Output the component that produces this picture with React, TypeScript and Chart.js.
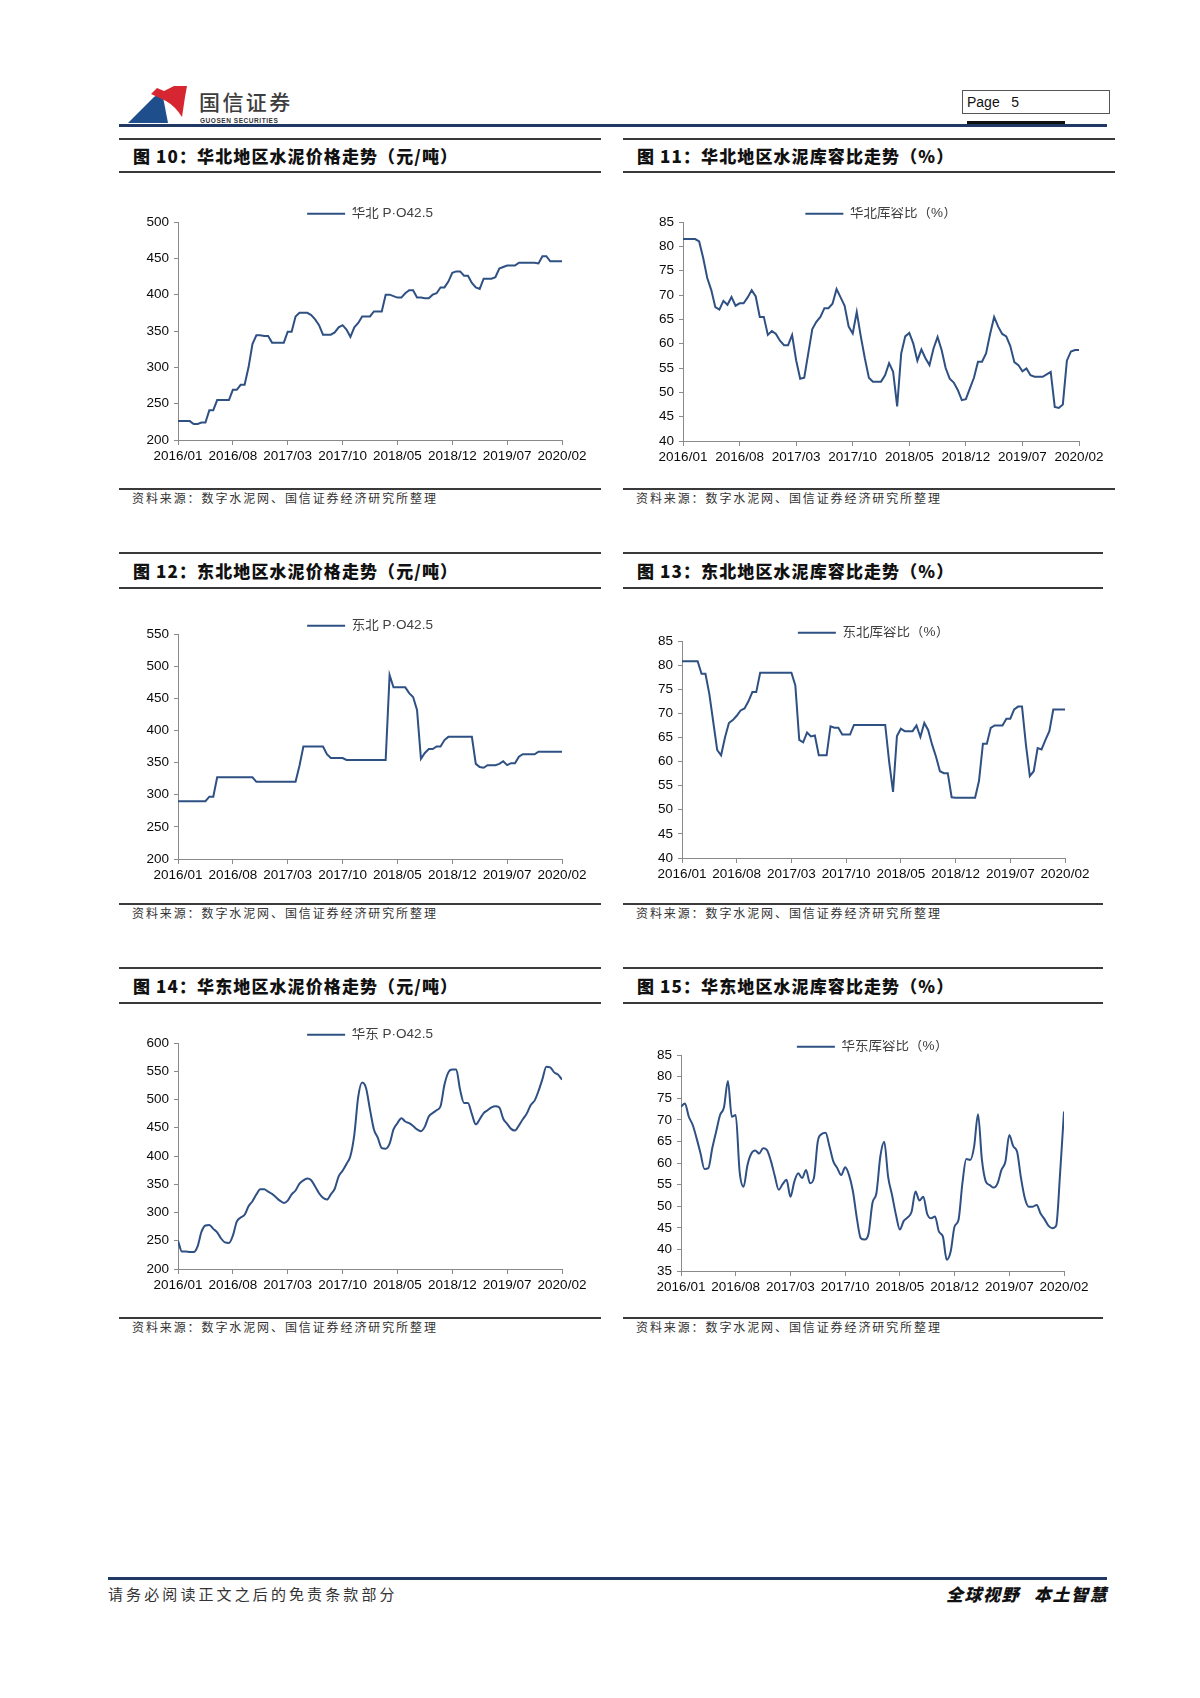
import React, { useEffect, useRef } from "react";
import { Chart, registerables } from "chart.js";

Chart.register(...registerables);

// ---------------- DATA ----------------
// x axis: months since 2016/01, two readings per month (0, 0.5, 1, ... 49)
const X_TICK_LABELS = ["2016/01", "2016/08", "2017/03", "2017/10", "2018/05", "2018/12", "2019/07", "2020/02"];
const MONTHS_PER_TICK = 7;
const READINGS_PER_MONTH = 2;

// 图10 华北 P·O42.5 (元/吨)
const HUABEI_PRICE = [
  226, 226, 226, 226, 222, 222, 224, 224, 241, 241,
  255, 255, 255, 255, 269, 269, 276, 276, 300, 332,
  344, 344, 343, 343, 334, 334, 334, 334, 349, 349,
  370, 375, 375, 375, 372, 366, 358, 345, 345, 345,
  348, 355, 358, 352, 342, 355, 361, 370, 370, 370,
  377, 377, 377, 400, 400, 398, 396, 396, 402, 406,
  406, 396, 396, 395, 395, 400, 402, 410, 410, 418,
  430, 432, 432, 426, 426, 416, 410, 408, 422, 422,
  422, 424, 436, 438, 440, 440, 440, 444, 444, 444,
  444, 444, 443, 453, 453, 446, 446, 446, 446,
];

// 图11 华北库容比 (%)
const HUABEI_RATIO = [
  81.5, 81.5, 81.5, 81.5, 81, 77.6, 73.5, 71, 67.5, 67,
  68.8, 68, 69.6, 67.8, 68.3, 68.3, 69.5, 71, 69.7, 65.5,
  65.5, 61.8, 62.6, 62, 60.6, 59.7, 59.7, 61.8, 56.6, 52.8,
  53, 58, 63, 64.5, 65.5, 67.3, 67.3, 68.2, 71.2, 69.5,
  67.8, 63.5, 62.1, 66.5, 61.5, 57, 53, 52.2, 52.2, 52.2,
  53.5, 56, 54.2, 47.1, 58, 61.5, 62.2, 60, 56.5, 58.8,
  57, 55.6, 59, 61.4, 58.7, 55, 52.8, 52, 50.5, 48.4,
  48.6, 50.8, 53, 56.3, 56.3, 58, 62, 65.5, 63.5, 62,
  61.5, 59.5, 56.2, 55.6, 54.3, 54.9, 53.5, 53.2, 53.2, 53.2,
  53.7, 54.2, 47, 46.8, 47.5, 56.5, 58.4, 58.7, 58.7,
];

// 图12 东北 P·O42.5 (元/吨)
const DONGBEI_PRICE = [
  290, 290, 290, 290, 290, 290, 290, 290, 297, 297,
  327, 327, 327, 327, 327, 327, 327, 327, 327, 327,
  320, 320, 320, 320, 320, 320, 320, 320, 320, 320,
  320, 345, 375, 375, 375, 375, 375, 375, 363, 357,
  357, 357, 357, 354, 354, 354, 354, 354, 354, 354,
  354, 354, 354, 354, 486, 467, 467, 467, 467, 458,
  452, 432, 356, 365, 371, 371, 375, 375, 385, 390,
  390, 390, 390, 390, 390, 390, 348, 343, 342, 346,
  346, 346, 348, 352, 346, 349, 349, 359, 363, 363,
  363, 363, 367, 367, 367, 367, 367, 367, 367,
];

// 图13 东北库容比 (%)
const DONGBEI_RATIO = [
  80.8, 80.8, 80.8, 80.8, 80.8, 78.2, 78.2, 74, 68.2, 62.4,
  61.3, 65, 68, 68.6, 69.5, 70.6, 71, 72.5, 74.4, 74.4,
  78.4, 78.4, 78.4, 78.4, 78.4, 78.4, 78.4, 78.4, 78.4, 75.8,
  64.5, 64, 66, 65.2, 65.4, 61.3, 61.3, 61.3, 67.3, 67,
  67, 65.6, 65.6, 65.6, 67.6, 67.6, 67.6, 67.6, 67.6, 67.6,
  67.6, 67.6, 67.6, 60, 53.7, 65.3, 66.8, 66.3, 66.3, 66.3,
  67.5, 65.1, 68, 66.5, 63.5, 61, 58, 57.6, 57.6, 52.6,
  52.5, 52.5, 52.5, 52.5, 52.5, 52.5, 56, 63.7, 63.7, 67,
  67.5, 67.5, 67.5, 68.9, 68.9, 70.8, 71.4, 71.4, 63.5, 57,
  58, 62.8, 62.5, 64.5, 66.3, 70.8, 70.8, 70.8, 70.8,
];

// 图14 华东 P·O42.5 (元/吨)
const HUADONG_PRICE = [
  250, 231, 231, 230, 230, 240, 266, 277, 278, 271,
  265, 254, 247, 246, 259, 284, 291, 296, 311, 320,
  332, 341, 341, 337, 333, 327, 321, 317, 321, 332,
  339, 351, 357, 360, 357, 346, 334, 326, 323, 332,
  342, 364, 374, 386, 400, 438, 505, 530, 520, 482,
  447, 432, 414, 413, 422, 447, 458, 467, 461, 458,
  453, 447, 444, 452, 470, 476, 481, 488, 526, 548,
  553, 553, 517, 494, 494, 474, 456, 465, 476, 481,
  486, 488, 486, 466, 457, 448, 445, 454, 465, 475,
  490, 498, 515, 536, 558, 557, 548, 544, 535,
];

// 图15 华东库容比 (%)
const HUADONG_RATIO = [
  73, 73.8, 70.7, 68.8, 65.7, 62.2, 58.6, 58.8, 63.4, 67.3,
  71.1, 72.9, 79, 70.7, 71.1, 58, 54.5, 59.5, 62.2, 62.9,
  62.2, 63.4, 63, 60.5, 57, 53.8, 55.1, 56.1, 52.2, 55.7,
  57.6, 56.5, 58.4, 55.3, 56.5, 65, 66.7, 67, 63.8, 60.3,
  58.8, 57.2, 59, 57.2, 53.4, 47.2, 42.6, 42.3, 43.7, 50.8,
  53, 61.5, 64.9, 56.8, 52.6, 48, 44.6, 46.6, 47.4, 48.7,
  53.4, 51.3, 52.2, 48.2, 47.2, 47.6, 44.1, 43, 37.6, 39.5,
  45.3, 46.8, 55.3, 60.9, 60.7, 63.8, 71.3, 60.7, 55.7, 54.9,
  54.3, 55.3, 58.4, 60.3, 66.5, 63.9, 62.6, 56.5, 51.8, 49.9,
  49.9, 50.3, 48.3, 47, 45.5, 44.9, 45.5, 57.6, 71.9,
];

// ---------------- STYLE ----------------
const SANS = '"Liberation Sans", Arial, "Noto Sans CJK SC", sans-serif';
const CJK = '"Noto Sans CJK SC", "Liberation Sans", sans-serif';
const LINE_COLOR = "#2f5083";
const AXIS_COLOR = "#8a8a8a";
const NAVY = "#1f3864";
const LEGEND_BOX_HEIGHT = 15;

Chart.defaults.font.family = SANS;

const legendHeightPlugin = {
  id: "legendHeightFix",
  beforeInit(chart: any) {
    const legend = chart.legend;
    if (!legend) return;
    const orig = legend.fit;
    legend.fit = function () {
      orig.call(this);
      this.height = LEGEND_BOX_HEIGHT;
    };
  },
};

type ChartSpec = {
  values: number[];
  label: string;
  yMin: number;
  yMax: number;
  yStep: number;
  smooth?: boolean;
  canvasTop: number;
  canvasH: number;
  yAxisW: number;
  padTop: number;
  padRight: number;
  xAxisH: number;
};

type PanelSpec = {
  title: string;
  x: number;
  w: number;
  titleTop: number;
  titleBottom: number;
  sourceY: number;
  chart: ChartSpec;
};

function LineChart({ left, width, spec }: { left: number; width: number; spec: ChartSpec }) {
  const ref = useRef<HTMLCanvasElement | null>(null);
  useEffect(() => {
    if (!ref.current) return;
    const points = spec.values.map((v, i) => ({ x: i / READINGS_PER_MONTH, y: v }));
    const lastMonth = (X_TICK_LABELS.length - 1) * MONTHS_PER_TICK;
    const chart = new Chart(ref.current, {
      type: "line",
      data: {
        datasets: [
          {
            label: spec.label,
            data: points,
            borderColor: LINE_COLOR,
            backgroundColor: LINE_COLOR,
            borderWidth: 2,
            pointRadius: 0,
            fill: false,
            tension: spec.smooth ? 0.4 : 0,
            cubicInterpolationMode: spec.smooth ? "monotone" : "default",
          } as any,
        ],
      },
      options: {
        animation: false,
        responsive: false,
        maintainAspectRatio: false,
        layout: { padding: { top: spec.padTop, right: spec.padRight, left: 0, bottom: 0 } },
        plugins: {
          legend: {
            position: "top",
            fullSize: false,
            labels: {
              usePointStyle: true,
              pointStyle: "line",
              pointStyleWidth: 38,
              padding: 0,
              color: "#404040",
              font: { size: 13.5, family: SANS },
            },
          } as any,
          tooltip: { enabled: false },
        },
        scales: {
          x: {
            type: "linear",
            min: 0,
            max: lastMonth,
            ticks: {
              stepSize: MONTHS_PER_TICK,
              autoSkip: false,
              maxRotation: 0,
              minRotation: 0,
              padding: 3,
              color: "#0a0a0a",
              font: { size: 13.5, family: SANS },
              callback: (v: any) => X_TICK_LABELS[Math.round(Number(v) / MONTHS_PER_TICK)] ?? "",
            },
            grid: { display: true, drawOnChartArea: false, drawTicks: true, tickLength: 5, color: AXIS_COLOR },
            border: { display: true, color: AXIS_COLOR, width: 1 },
            afterFit: (s: any) => {
              s.height = spec.xAxisH;
            },
          } as any,
          y: {
            min: spec.yMin,
            max: spec.yMax,
            ticks: {
              stepSize: spec.yStep,
              padding: 5,
              color: "#0a0a0a",
              font: { size: 13.5, family: SANS },
            },
            grid: { display: true, drawOnChartArea: false, drawTicks: true, tickLength: 4, color: AXIS_COLOR },
            border: { display: true, color: AXIS_COLOR, width: 1 },
            afterFit: (s: any) => {
              s.width = spec.yAxisW;
            },
          } as any,
        },
      },
      plugins: [legendHeightPlugin as any],
    });
    return () => chart.destroy();
  }, [spec, left, width]);
  return (
    <canvas
      ref={ref}
      width={width}
      height={spec.canvasH}
      style={{ position: "absolute", left, top: spec.canvasTop, width, height: spec.canvasH }}
    />
  );
}

const PANELS: PanelSpec[] = [
  {
    title: "图 10：华北地区水泥价格走势（元/吨）",
    x: 119, w: 482, titleTop: 139, titleBottom: 172, sourceY: 489,
    chart: { values: HUABEI_PRICE, label: "华北 P·O42.5", yMin: 200, yMax: 500, yStep: 50,
      canvasTop: 176, canvasH: 304, yAxisW: 59, padTop: 31, padRight: 39, xAxisH: 40 },
  },
  {
    title: "图 11：华北地区水泥库容比走势（%）",
    x: 623, w: 492, titleTop: 139, titleBottom: 172, sourceY: 489,
    chart: { values: HUABEI_RATIO, label: "华北库容比（%）", yMin: 40, yMax: 85, yStep: 5,
      canvasTop: 176, canvasH: 305, yAxisW: 60, padTop: 31, padRight: 36, xAxisH: 40 },
  },
  {
    title: "图 12：东北地区水泥价格走势（元/吨）",
    x: 119, w: 482, titleTop: 553, titleBottom: 588, sourceY: 904,
    chart: { values: DONGBEI_PRICE, label: "东北 P·O42.5", yMin: 200, yMax: 550, yStep: 50,
      canvasTop: 592, canvasH: 307, yAxisW: 59, padTop: 27, padRight: 39, xAxisH: 40 },
  },
  {
    title: "图 13：东北地区水泥库容比走势（%）",
    x: 623, w: 480, titleTop: 553, titleBottom: 588, sourceY: 904,
    chart: { values: DONGBEI_RATIO, label: "东北库容比（%）", yMin: 40, yMax: 85, yStep: 5,
      canvasTop: 592, canvasH: 306, yAxisW: 59, padTop: 34, padRight: 38, xAxisH: 40 },
  },
  {
    title: "图 14：华东地区水泥价格走势（元/吨）",
    x: 119, w: 482, titleTop: 968, titleBottom: 1003, sourceY: 1318,
    chart: { values: HUADONG_PRICE, label: "华东 P·O42.5", yMin: 200, yMax: 600, yStep: 50, smooth: true,
      canvasTop: 1007, canvasH: 302, yAxisW: 59, padTop: 21, padRight: 39, xAxisH: 40 },
  },
  {
    title: "图 15：华东地区水泥库容比走势（%）",
    x: 623, w: 480, titleTop: 968, titleBottom: 1003, sourceY: 1318,
    chart: { values: HUADONG_RATIO, label: "华东库容比（%）", yMin: 35, yMax: 85, yStep: 5, smooth: true,
      canvasTop: 1007, canvasH: 304, yAxisW: 58, padTop: 33, padRight: 39, xAxisH: 40 },
  },
];

const SOURCE_TEXT = "资料来源：数字水泥网、国信证券经济研究所整理";

function Panel({ p }: { p: PanelSpec }) {
  const rule = (top: number, h: number): React.CSSProperties => ({
    position: "absolute", left: p.x, top, width: p.w, height: h, background: "#3a3a3a",
  });
  return (
    <>
      <div style={rule(p.titleTop - 1, 2)} />
      <div
        style={{
          position: "absolute", left: p.x + 14, top: (p.titleTop + p.titleBottom) / 2 - 11,
          height: 22, lineHeight: "22px", fontFamily: CJK, fontWeight: 900, fontSize: 17,
          color: "#111", whiteSpace: "nowrap", letterSpacing: 1.1,
        }}
      >
        {p.title}
      </div>
      <div style={rule(p.titleBottom - 1, 2)} />
      <LineChart left={p.x} width={p.w} spec={p.chart} />
      <div style={rule(p.sourceY - 1, 1.5)} />
      <div
        style={{
          position: "absolute", left: p.x + 13, top: p.sourceY + 1, height: 16, lineHeight: "16px",
          fontFamily: CJK, fontSize: 12, color: "#333", whiteSpace: "nowrap", letterSpacing: 1.9,
        }}
      >
        {SOURCE_TEXT}
      </div>
    </>
  );
}

function Header() {
  return (
    <>
      <svg style={{ position: "absolute", left: 125, top: 84 }} width={66} height={42} viewBox="0 0 66 42">
        <path d="M3 39 L29 13 Q34 9 38 13 L43 39 Z" fill="#1f4e8c" />
        <path d="M26 10 L32 4 L39 7 L49 2 L62 2 L60 13 L57 33 Q50 22 41 17 Q33 13 26 10 Z" fill="#d62631" />
      </svg>
      <div
        style={{
          position: "absolute", left: 199, top: 88, fontFamily: CJK, fontSize: 21, fontWeight: 500,
          color: "#3d3d3d", letterSpacing: 2.4, lineHeight: "26px", whiteSpace: "nowrap",
        }}
      >
        国信证券
      </div>
      <div
        style={{
          position: "absolute", left: 200, top: 117, fontFamily: SANS, fontSize: 6.5, fontWeight: 700,
          color: "#333", letterSpacing: 0.55, lineHeight: "8px", whiteSpace: "nowrap",
        }}
      >
        GUOSEN SECURITIES
      </div>
      <div style={{ position: "absolute", left: 119, top: 124, width: 988, height: 3, background: NAVY }} />
      <div
        style={{
          position: "absolute", left: 962, top: 90, width: 142, height: 22, border: "1.5px solid #555",
          fontFamily: SANS, fontSize: 14, color: "#111", lineHeight: "22px", paddingLeft: 4,
          boxSizing: "content-box", whiteSpace: "pre",
        }}
      >
        {"Page   5"}
      </div>
      <div style={{ position: "absolute", left: 967, top: 121, width: 98, height: 3, background: "#111" }} />
    </>
  );
}

function Footer() {
  const right: React.CSSProperties = {
    fontFamily: CJK, fontSize: 17, fontWeight: 900, fontStyle: "italic", color: "#111",
    letterSpacing: 1.5, lineHeight: "20px", whiteSpace: "nowrap",
  };
  return (
    <>
      <div style={{ position: "absolute", left: 108, top: 1577, width: 999, height: 3, background: NAVY }} />
      <div
        style={{
          position: "absolute", left: 108, top: 1584, fontFamily: CJK, fontSize: 15, color: "#333",
          letterSpacing: 3.1, lineHeight: "20px", whiteSpace: "nowrap",
        }}
      >
        请务必阅读正文之后的免责条款部分
      </div>
      <div style={{ position: "absolute", right: 92, top: 1584, display: "flex", gap: 14 }}>
        <span style={right}>全球视野</span>
        <span style={right}>本土智慧</span>
      </div>
    </>
  );
}

export default function App() {
  return (
    <div
      style={{
        position: "absolute", left: 0, top: 0, width: 1200, height: 1698, background: "#fff",
        overflow: "hidden", fontFamily: SANS,
      }}
    >
      <Header />
      {PANELS.map((p) => (
        <Panel key={p.title} p={p} />
      ))}
      <Footer />
    </div>
  );
}
